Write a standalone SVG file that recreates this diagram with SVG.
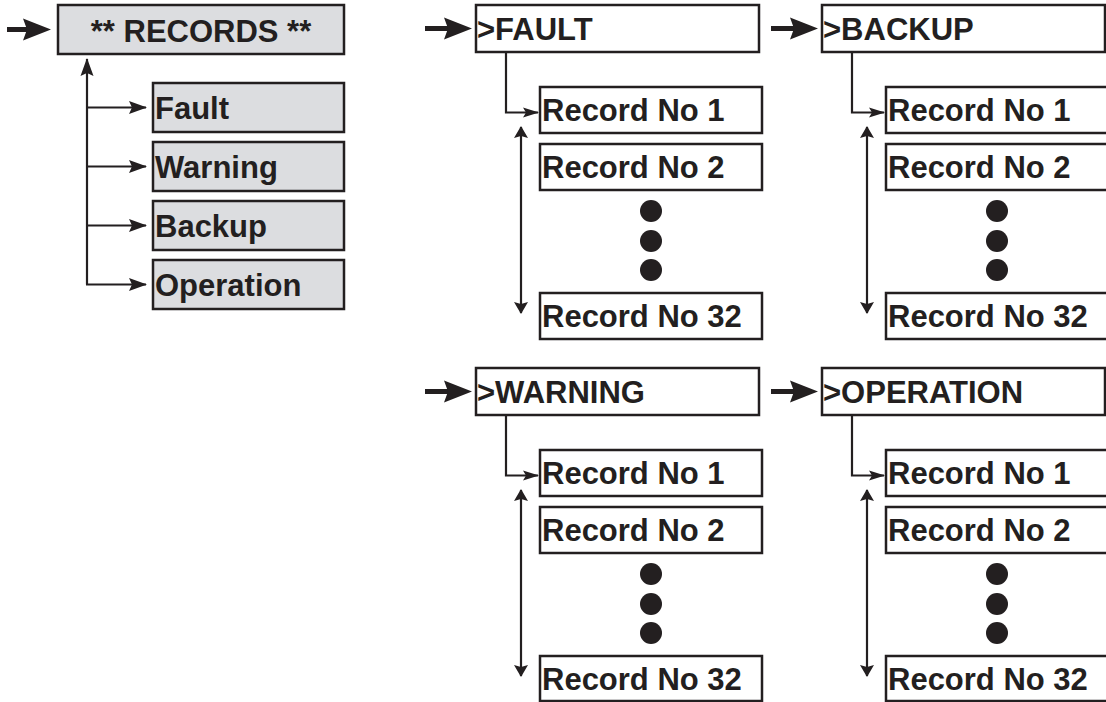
<svg xmlns="http://www.w3.org/2000/svg" width="1106" height="702" viewBox="0 0 1106 702">
<style>
.box{fill:#ffffff;stroke:#231f20;stroke-width:2.5}
.gbox{fill:#dcdde0;stroke:#231f20;stroke-width:2.5}
.t{font-family:"Liberation Sans",Arial,sans-serif;font-weight:bold;font-size:31px;fill:#231f20}
.ln{fill:none;stroke:#231f20;stroke-width:2.2}
.bold{fill:none;stroke:#231f20;stroke-width:5}
.dot{fill:#231f20}
</style>
<defs>
<marker id="ah" markerUnits="userSpaceOnUse" markerWidth="20" markerHeight="14" refX="0" refY="0" orient="auto" overflow="visible">
<path d="M1,0 L-17,-6.5 L-14,0 L-17,6.5 Z" fill="#231f20"/>
</marker>
<marker id="ahs" markerUnits="userSpaceOnUse" markerWidth="16" markerHeight="12" refX="0" refY="0" orient="auto" overflow="visible">
<path d="M1,0 L-15,-5 L-12,0 L-15,5 Z" fill="#231f20"/>
</marker>
<marker id="ahw" markerUnits="userSpaceOnUse" markerWidth="12" markerHeight="16" refX="0" refY="0" orient="auto-start-reverse" overflow="visible">
<path d="M1,0 L-11,-7 L-9,0 L-11,7 Z" fill="#231f20"/>
</marker>
<marker id="ahb" markerUnits="userSpaceOnUse" markerWidth="30" markerHeight="24" refX="0" refY="0" orient="auto" overflow="visible">
<path d="M23,0 L-5,-11 L-1,0 L-5,11 Z" fill="#231f20"/>
</marker>
</defs>

<g id="connectors">
<path class="bold" d="M7,29.5 H28" marker-end="url(#ahb)"/>
<path class="bold" d="M425,28.5 H449" marker-end="url(#ahb)"/>
<path class="bold" d="M771,28.5 H795" marker-end="url(#ahb)"/>
<path class="bold" d="M425,391.5 H449" marker-end="url(#ahb)"/>
<path class="bold" d="M771,391.5 H795" marker-end="url(#ahb)"/>

<path class="ln" d="M87,284.5 V59" marker-end="url(#ah)"/>
<path class="ln" d="M87,107.5 H146" marker-end="url(#ah)"/>
<path class="ln" d="M87,166.5 H146" marker-end="url(#ah)"/>
<path class="ln" d="M87,225.5 H146" marker-end="url(#ah)"/>
<path class="ln" d="M86,284.5 H146" marker-end="url(#ah)"/>

<path class="ln" d="M506,52 V112.5 H538" marker-end="url(#ahs)"/>
<path class="ln" d="M852,52 V112.5 H884" marker-end="url(#ahs)"/>
<path class="ln" d="M506,415 V475.5 H538" marker-end="url(#ahs)"/>
<path class="ln" d="M852,415 V475.5 H884" marker-end="url(#ahs)"/>

<path class="ln" d="M521,127 V313" marker-start="url(#ahw)" marker-end="url(#ahw)"/>
<path class="ln" d="M867,127 V313" marker-start="url(#ahw)" marker-end="url(#ahw)"/>
<path class="ln" d="M521,490 V676" marker-start="url(#ahw)" marker-end="url(#ahw)"/>
<path class="ln" d="M867,490 V676" marker-start="url(#ahw)" marker-end="url(#ahw)"/>
</g>

<g id="records">
<rect class="gbox" x="58" y="5" width="286" height="49"/>
<text class="t" x="201" y="42" text-anchor="middle">** RECORDS **</text>
</g>
<g id="menu-fault">
<rect class="gbox" x="153" y="83" width="191" height="49"/>
<text class="t" x="155" y="119">Fault</text>
</g>
<g id="menu-warning">
<rect class="gbox" x="153" y="142" width="191" height="49"/>
<text class="t" x="155" y="178">Warning</text>
</g>
<g id="menu-backup">
<rect class="gbox" x="153" y="201" width="191" height="49"/>
<text class="t" x="155" y="237">Backup</text>
</g>
<g id="menu-operation">
<rect class="gbox" x="153" y="260" width="191" height="49"/>
<text class="t" x="155" y="296">Operation</text>
</g>

<g id="fault">
<rect class="box" x="476" y="5" width="283" height="47"/>
<text class="t" x="477" y="39.5">&gt;FAULT</text>
<rect class="box" x="540" y="87" width="222" height="46"/>
<text class="t" x="542" y="121">Record No 1</text>
<rect class="box" x="540" y="144" width="222" height="46"/>
<text class="t" x="542" y="178">Record No 2</text>
<circle class="dot" cx="651" cy="211" r="11"/>
<circle class="dot" cx="651" cy="241" r="11"/>
<circle class="dot" cx="651" cy="270" r="11"/>
<rect class="box" x="540" y="293" width="222" height="46"/>
<text class="t" x="542" y="327">Record No 32</text>
</g>

<g id="backup">
<rect class="box" x="822" y="5" width="283" height="47"/>
<text class="t" x="823" y="39.5">&gt;BACKUP</text>
<rect class="box" x="886" y="87" width="222" height="46"/>
<text class="t" x="888" y="121">Record No 1</text>
<rect class="box" x="886" y="144" width="222" height="46"/>
<text class="t" x="888" y="178">Record No 2</text>
<circle class="dot" cx="997" cy="211" r="11"/>
<circle class="dot" cx="997" cy="241" r="11"/>
<circle class="dot" cx="997" cy="270" r="11"/>
<rect class="box" x="886" y="293" width="222" height="46"/>
<text class="t" x="888" y="327">Record No 32</text>
</g>

<g id="warning">
<rect class="box" x="476" y="368" width="283" height="47"/>
<text class="t" x="477" y="402.5">&gt;WARNING</text>
<rect class="box" x="540" y="450" width="222" height="46"/>
<text class="t" x="542" y="484">Record No 1</text>
<rect class="box" x="540" y="507" width="222" height="46"/>
<text class="t" x="542" y="541">Record No 2</text>
<circle class="dot" cx="651" cy="574" r="11"/>
<circle class="dot" cx="651" cy="604" r="11"/>
<circle class="dot" cx="651" cy="633" r="11"/>
<rect class="box" x="540" y="656" width="222" height="45"/>
<text class="t" x="542" y="690">Record No 32</text>
</g>

<g id="operation">
<rect class="box" x="822" y="368" width="283" height="47"/>
<text class="t" x="823" y="402.5">&gt;OPERATION</text>
<rect class="box" x="886" y="450" width="222" height="46"/>
<text class="t" x="888" y="484">Record No 1</text>
<rect class="box" x="886" y="507" width="222" height="46"/>
<text class="t" x="888" y="541">Record No 2</text>
<circle class="dot" cx="997" cy="574" r="11"/>
<circle class="dot" cx="997" cy="604" r="11"/>
<circle class="dot" cx="997" cy="633" r="11"/>
<rect class="box" x="886" y="656" width="222" height="45"/>
<text class="t" x="888" y="690">Record No 32</text>
</g>
</svg>
